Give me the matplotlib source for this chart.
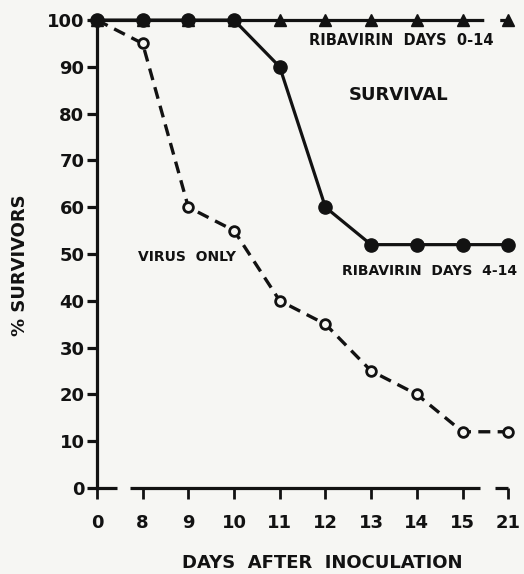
"""
Survival after virus inoculation, with and without ribavirin treatment.
Redrawn from a scanned figure: broken x axis (0 | 8..15 | 21).
"""

import matplotlib.pyplot as plt

# --- data -------------------------------------------------------------------
DAYS = ["0", "8", "9", "10", "11", "12", "13", "14", "15", "21"]
RIBA_0_14 = [100, 100, 100, 100, 100, 100, 100, 100, 100, 100]
RIBA_4_14 = [100, 100, 100, 100, 90, 60, 52, 52, 52, 52]
VIRUS_ONLY = [100, 95, 60, 55, 40, 35, 25, 20, 12, 12]
Y_TICKS = [0, 10, 20, 30, 40, 50, 60, 70, 80, 90, 100]

INK = "#121212"
PAPER = "#f6f6f3"


def main() -> None:
    plt.rcParams["font.family"] = ["DejaVu Sans"]
    plt.rcParams["font.weight"] = "bold"

    fig = plt.figure(figsize=(5.24, 5.74), dpi=100, facecolor=PAPER)
    ax = fig.add_axes([0.185, 0.150, 0.811, 0.815], facecolor=PAPER)

    xs = list(range(len(DAYS)))

    # Ribavirin days 0-14: solid line up to day 15, short dashed bridge to 21
    ax.plot(xs[:-1], RIBA_0_14[:-1], color=INK, linewidth=2.3,
            solid_capstyle="butt", clip_on=False, zorder=3)
    ax.plot(xs[-2:], RIBA_0_14[-2:], color=INK, linewidth=2.3,
            linestyle=(0, (6.5, 5)), clip_on=False, zorder=3)
    ax.plot(xs, RIBA_0_14, linestyle="none", marker="^", markersize=8,
            color=INK, clip_on=False, zorder=4)

    # Ribavirin days 4-14
    ax.plot(xs, RIBA_4_14, color=INK, linewidth=2.3, marker="o",
            markersize=9.5, clip_on=False, zorder=5)

    # Virus only
    ax.plot(xs, VIRUS_ONLY, color=INK, linewidth=2.4, linestyle=(0, (3.6, 2.2)),
            marker="o", markersize=7, markerfacecolor=PAPER,
            markeredgewidth=2.0, markeredgecolor=INK, clip_on=False, zorder=3)

    # --- axes -----------------------------------------------------------------
    ax.set_xlim(0, 9.3)
    ax.set_ylim(0, 100)
    for side in ("top", "right", "bottom"):
        ax.spines[side].set_visible(False)
    ax.spines["left"].set_linewidth(2.3)
    ax.spines["left"].set_color(INK)
    ax.spines["left"].set_bounds(0, 100)

    # broken x axis line drawn at y = 0
    for x0, x1 in [(0, 0.44), (0.72, 8.38), (8.71, 9.0)]:
        ax.plot([x0, x1], [0, 0], color=INK, linewidth=2.3,
                solid_capstyle="butt", clip_on=False, zorder=2)

    ax.set_xticks(xs)
    ax.set_xticklabels(DAYS)
    ax.set_yticks(Y_TICKS)
    ax.set_yticklabels([str(t) for t in Y_TICKS])
    ax.tick_params(axis="x", direction="out", length=8, width=2.0,
                   color=INK, labelcolor=INK, labelsize=13, pad=11)
    ax.tick_params(axis="y", direction="out", length=7, width=2.3,
                   color=INK, labelcolor=INK, labelsize=13, pad=2)

    # --- annotations ----------------------------------------------------------
    ax.text(6.67, 95.6, "RIBAVIRIN  DAYS  0-14", ha="center", va="center",
            fontsize=10.5, color=INK)
    ax.text(6.59, 84.0, "SURVIVAL", ha="center", va="center",
            fontsize=13, color=INK)
    ax.text(1.97, 49.4, "VIRUS  ONLY", ha="center", va="center",
            fontsize=10, color=INK)
    ax.text(5.36, 46.4, "RIBAVIRIN  DAYS  4-14", ha="left", va="center",
            fontsize=10, color=INK)

    fig.text(322 / 524, 1 - 563 / 574, "DAYS  AFTER  INOCULATION",
             ha="center", va="center", fontsize=13, color=INK)
    fig.text(20 / 524, 1 - 265 / 574, "% SURVIVORS", rotation=90,
             ha="center", va="center", fontsize=13, color=INK)

    fig.savefig("out.png", dpi=100, facecolor=PAPER)


if __name__ == "__main__":
    main()
